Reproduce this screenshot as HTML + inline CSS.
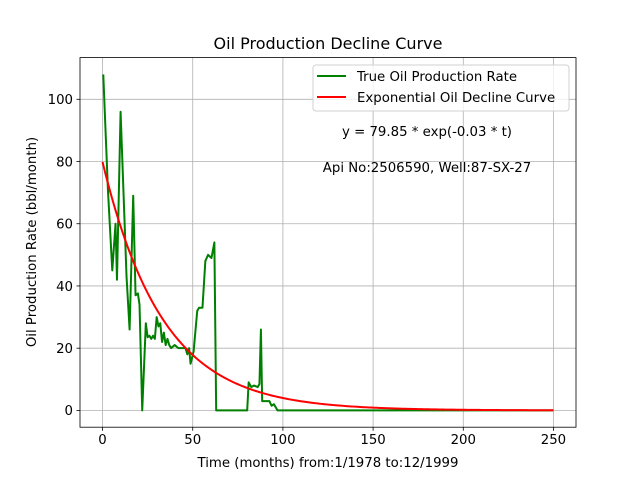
<!DOCTYPE html>
<html><head><meta charset="utf-8"><style>
body{margin:0;background:#fff}
svg text{font-family:"DejaVu Sans","Liberation Sans",sans-serif;fill:#000}
</style></head><body>
<svg id="chart" width="640" height="480" xmlns="http://www.w3.org/2000/svg">
<rect width="640" height="480" fill="#fff"/>
<g id="grid"></g><g id="series"></g><g id="axes"></g>
</svg>
<script>
const xTicks=[0,50,100,150,200,250];
const yTicks=[0,20,40,60,80,100];
const months=[0.4,3,5.4,7.2,8,10,13.3,15,17,18.3,19.6,20.5,22,24,25,26,27,28,29,30,31,32,33,34,35,36,37,38,40,42,44,46,47,48,48.8,50.5,52.5,53.5,55.4,57,58.5,60.4,62,63,80.2,81,82.5,84,86,87,87.8,88.5,92.5,93.7,95,97,250];
const rates=[108,70.7,45,60,42,96,43,26,69,37,37.6,34,0,28,23.5,24,23,24,23,30,27,28,22,25,21,23,21,20,21,20,20,20,18,20,15,19,32,33,33,48,50,49,54,0,0,9,7.5,8,7.5,8.5,26,3,3,1.5,2,0,0];
const fitA=[79.85];const fitB=[-0.03];
const NS="http://www.w3.org/2000/svg";
const L=80,R=576,T=57.6,B=427.2;
const x0=-12.5,x1=262.5,y0=-5.4,y1=113.4;
const sx=v=>L+(v-x0)/(x1-x0)*(R-L);
const sy=v=>B-(v-y0)/(y1-y0)*(B-T);
function mk(tag,attrs,parent,txt){const e=document.createElementNS(NS,tag);for(const k in attrs)e.setAttribute(k,attrs[k]);if(txt!==undefined)e.textContent=txt;parent.appendChild(e);return e;}
const grid=document.getElementById('grid'),ser=document.getElementById('series'),ax=document.getElementById('axes');
xTicks.forEach(t=>{const g=mk('line',{x1:sx(t),x2:sx(t),y1:T,y2:B,stroke:'#b0b0b0','stroke-width':0.8},grid);


const tk=mk('line',{x1:sx(t),x2:sx(t),y1:B,y2:B+3.5,stroke:'#000','stroke-width':0.8},ax);


const lb=mk('text',{x:sx(t),y:B+17,'font-size':'13.3','text-anchor':'middle'},ax,String(t));

});
yTicks.forEach(t=>{const g=mk('line',{x1:L,x2:R,y1:sy(t),y2:sy(t),stroke:'#b0b0b0','stroke-width':0.8},grid);


const tk=mk('line',{x1:L-3.5,x2:L,y1:sy(t),y2:sy(t),stroke:'#000','stroke-width':0.8},ax);


const lb=mk('text',{x:L-7,y:sy(t)+4.8,'font-size':'13.3','text-anchor':'end'},ax,String(t));

});
const gp=mk('polyline',{points:months.map((m,i)=>sx(m)+','+sy(rates[i])).join(' '),fill:'none',stroke:'#008000','stroke-width':2,'stroke-linejoin':'round'},ser);


const pts=[];for(let t=0;t<=250;t+=1)pts.push(sx(t)+','+sy(fitA[0]*Math.exp(fitB[0]*t)));
const rp=mk('polyline',{points:pts.join(' '),fill:'none',stroke:'#ff0000','stroke-width':2},ser);


const fr=mk('rect',{x:L,y:T,width:R-L,height:B-T,fill:'none',stroke:'#000','stroke-width':0.8},ax);


</script>
<svg style="position:absolute;left:0;top:0" width="640" height="480" xmlns="http://www.w3.org/2000/svg">
<text x="328" y="49" font-size="16" text-anchor="middle">Oil Production Decline Curve</text>
<text x="328" y="467" font-size="13.3" text-anchor="middle">Time (months) from:1/1978 to:12/1999</text>
<text transform="translate(36,242) rotate(-90)" font-size="13.3" text-anchor="middle">Oil Production Rate (bbl/month)</text>
<g>
<rect x="313" y="65" width="256" height="46" rx="3" fill="#fff" fill-opacity="0.8" stroke="#d0d0d0"/>
<line x1="317" x2="346" y1="76" y2="76" stroke="#008000" stroke-width="2"/>
<text x="357" y="81" font-size="13.3">True Oil Production Rate</text>
<line x1="317" x2="346" y1="97" y2="97" stroke="#ff0000" stroke-width="2"/>
<text x="357" y="102" font-size="13.3">Exponential Oil Decline Curve</text>
</g>
<text x="427" y="136" font-size="13.3" text-anchor="middle">y = 79.85 * exp(-0.03 * t)</text>
<text x="427" y="172" font-size="13.3" text-anchor="middle">Api No:2506590, Well:87-SX-27</text>
</svg>
</body></html>
